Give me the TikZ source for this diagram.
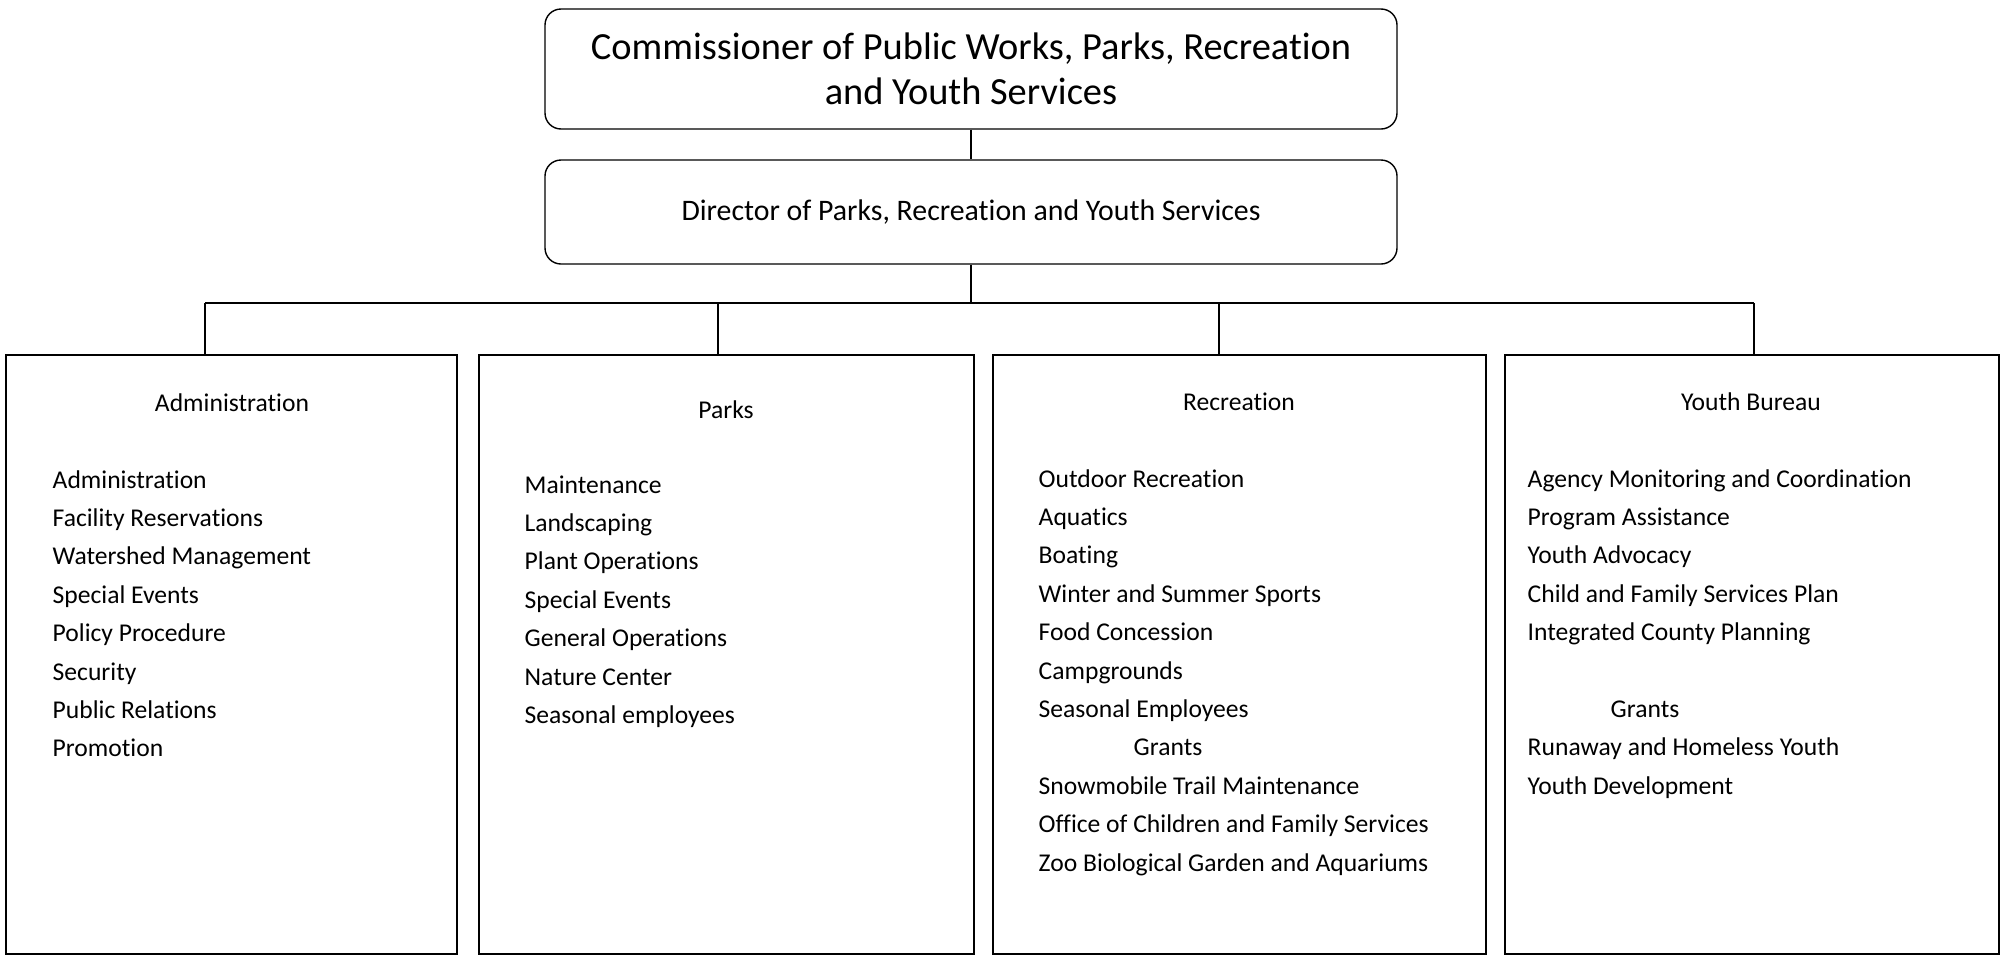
\documentclass[tikz,border=0pt]{standalone}
\usepackage{fontspec}
\setmainfont{Carlito}[Ligatures=NoCommon]
\begin{document}
\begin{tikzpicture}[x=1pt,y=-1pt,
  line width=1.4pt,
  topbox/.style={draw, rounded corners=16pt, align=center, inner sep=0pt},
  unitbox/.style={draw, inner sep=0pt, minimum height=599pt},
  head/.style={anchor=base, inner sep=0pt, font=\fontsize{25.6}{30}\selectfont},
  item/.style={anchor=base west, inner sep=0pt, font=\fontsize{25.6}{30}\selectfont},
  link/.style={line width=1.2pt}
]
\useasboundingbox (0,0) rectangle (2007,956);

\node[topbox, minimum width=852pt, minimum height=120pt,
      font=\fontsize{38.4}{45}\selectfont] (com) at (971,69)
  {Commissioner of Public Works, Parks, Recreation\\and Youth Services};
\node[topbox, minimum width=852pt, minimum height=104pt,
      font=\fontsize{29.8}{34}\selectfont] (dir) at (971,212)
  {Director of Parks, Recreation and Youth Services};

\node[unitbox, minimum width=451pt] (adm) at (231.5,654.5) {};
\node[unitbox, minimum width=495pt] (prk) at (726.5,654.5) {};
\node[unitbox, minimum width=493pt] (rec) at (1239.5,654.5) {};
\node[unitbox, minimum width=494pt] (yth) at (1752,654.5) {};

\coordinate (bus) at (971,303);
\coordinate (b1) at (205,303);
\coordinate (b2) at (718,303);
\coordinate (b3) at (1219,303);
\coordinate (b4) at (1754,303);

\draw[link] (com.south) -- (dir.north);
\draw[link] (dir.south) -- (bus);
\draw[link] (b1) -- (b4);
\draw[link] (b1) -- (b1 |- adm.north);
\draw[link] (b2) -- (b2 |- prk.north);
\draw[link] (b3) -- (b3 |- rec.north);
\draw[link] (b4) -- (b4 |- yth.north);

% headings
\node[head] (admh) at (232,411) {Administration};
\node[head] (prkh) at (726,418) {Parks};
\node[head] (rech) at (1239,410) {Recreation};
\node[head] (ythh) at (1751,410) {Youth Bureau};

% Administration items
\foreach \t [count=\i from 0] in {Administration, Facility Reservations,
  Watershed Management, Special Events, Policy Procedure, Security,
  Public Relations, Promotion}
  \node[item] (adm-\i) at (52,{488+38.4*\i}) {\t};

% Parks items
\foreach \t [count=\i from 0] in {Maintenance, Landscaping, Plant Operations,
  Special Events, General Operations, Nature Center, Seasonal employees}
  \node[item] (prk-\i) at (524,{493+38.4*\i}) {\t};

% Recreation items
\foreach \t [count=\i from 0] in {Outdoor Recreation, Aquatics, Boating,
  Winter and Summer Sports, Food Concession, Campgrounds, Seasonal Employees}
  \node[item] (rec-\i) at (1038,{487+38.4*\i}) {\t};
\node[item] (rec-g) at (1133,{487+38.4*7}) {Grants};
\foreach \t [count=\i from 8] in {Snowmobile Trail Maintenance,
  Office of Children and Family Services, Zoo Biological Garden and Aquariums}
  \node[item] (rec-\i) at (1038,{487+38.4*\i}) {\t};

% Youth Bureau items
\foreach \t [count=\i from 0] in {Agency Monitoring and Coordination,
  Program Assistance, Youth Advocacy, Child and Family Services Plan,
  Integrated County Planning}
  \node[item] (yth-\i) at (1527,{487+38.4*\i}) {\t};
\node[item] (yth-g) at (1610,{487+38.4*6}) {Grants};
\foreach \t [count=\i from 7] in {Runaway and Homeless Youth, Youth Development}
  \node[item] (yth-\i) at (1527,{487+38.4*\i}) {\t};
\end{tikzpicture}
\end{document}
